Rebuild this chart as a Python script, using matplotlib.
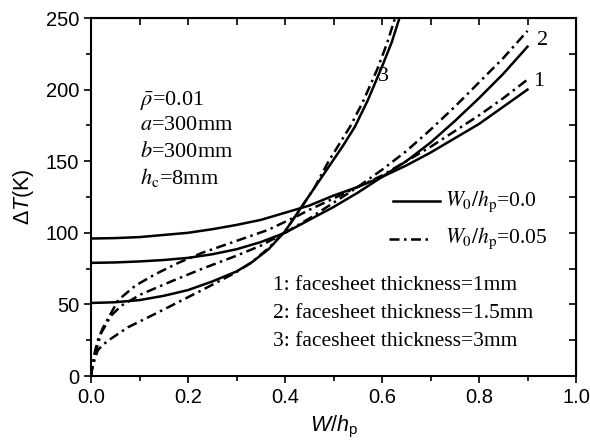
import numpy as np
import matplotlib
matplotlib.use('Agg')
import matplotlib.pyplot as plt

# ---------------- data ----------------
# W0/hp = 0.0 (solid), facesheet 1mm / 1.5mm / 3mm
x_s1 = [0.0, 0.05, 0.1, 0.15, 0.2, 0.25, 0.3, 0.35, 0.4, 0.45, 0.5, 0.55, 0.6, 0.65, 0.7, 0.75, 0.8, 0.85, 0.9]
y_s1 = [96, 96.3, 97, 98.5, 100, 102.5, 105.5, 109, 114, 119, 126, 132, 139, 147, 156, 166, 176, 188, 200]
x_s2 = [0.0, 0.05, 0.1, 0.15, 0.2, 0.25, 0.3, 0.35, 0.4, 0.45, 0.5, 0.55, 0.6, 0.65, 0.7, 0.75, 0.8, 0.85, 0.9]
y_s2 = [79, 79.3, 80, 81, 82.5, 85, 88.5, 93.5, 100, 109, 118, 128, 139, 150, 163, 178, 194, 211, 230]
x_s3 = [0.0, 0.05, 0.1, 0.15, 0.2, 0.25, 0.3, 0.332, 0.366, 0.4, 0.424, 0.452, 0.49, 0.52, 0.544,
        0.57, 0.6, 0.62, 0.636]
y_s3 = [51, 51.5, 53, 56, 60, 66, 73, 79.5, 88.5, 101, 113, 127, 146, 161, 174,
        192, 216, 233, 250]

# W0/hp = 0.05 (dash-dot)
x_d1 = [0.0, 0.003, 0.008, 0.015, 0.025, 0.035, 0.056, 0.091, 0.132, 0.18, 0.229, 0.297, 0.365, 0.427,
        0.45, 0.5, 0.55, 0.6, 0.65, 0.7, 0.75, 0.8, 0.85, 0.9]
y_d1 = [0, 8, 17, 26, 34, 40, 53, 63, 71, 79, 86, 94, 102, 112,
        116, 124, 132, 140, 150, 160, 171, 182, 194, 207]
x_d2 = [0.0, 0.003, 0.008, 0.014, 0.021, 0.041, 0.062, 0.103, 0.165, 0.23, 0.3, 0.35, 0.4,
        0.45, 0.5, 0.55, 0.6, 0.65, 0.7, 0.75, 0.8, 0.85, 0.9]
y_d2 = [0, 7, 15, 22, 30, 42, 49, 57, 66, 75, 84, 91, 100,
        110, 121, 132, 144, 157, 172, 188, 205, 222, 241]
x_d3 = [0.0, 0.003, 0.008, 0.014, 0.025, 0.041, 0.076, 0.118, 0.165, 0.229, 0.297, 0.33, 0.365,
        0.40, 0.43, 0.46, 0.49, 0.534, 0.56, 0.59, 0.61, 0.627]
y_d3 = [0, 6, 12, 18, 22, 26, 34, 41, 49, 60, 72, 79, 89,
        101, 116, 131, 150, 174, 191, 214, 232, 250]

thickness_labels = ['1: facesheet thickness=1mm', '2: facesheet thickness=1.5mm',
                    '3: facesheet thickness=3mm']

plt.rcParams['font.family'] = 'Liberation Sans'
plt.rcParams['mathtext.fontset'] = 'custom'
plt.rcParams['mathtext.rm'] = 'Liberation Sans'
plt.rcParams['mathtext.it'] = 'Liberation Sans:italic'

fig = plt.figure(figsize=(5.9, 4.4), dpi=100)
ax = fig.add_axes([91 / 590, 64 / 440, 485 / 590, 358 / 440])

dd = (0, (4, 1.8, 1, 1.8))
lw = 1.8
for xs, ys in [(x_s1, y_s1), (x_s2, y_s2), (x_s3, y_s3)]:
    ax.plot(xs, ys, color='black', lw=lw)
for xs, ys in [(x_d1, y_d1), (x_d2, y_d2), (x_d3, y_d3)]:
    ax.plot(xs, ys, color='black', lw=lw, linestyle=dd)

ax.set_xlim(0, 1.0)
ax.set_ylim(0, 250)
ax.set_xticks(np.arange(0, 1.01, 0.2))
ax.set_xticks(np.arange(0.1, 1.0, 0.2), minor=True)
ax.set_yticks(np.arange(0, 251, 50))
ax.set_yticks(np.arange(25, 250, 50), minor=True)
ax.xaxis.set_major_formatter(matplotlib.ticker.FormatStrFormatter('%.1f'))
ax.tick_params(which='major', direction='out', length=5, width=1.2, labelsize=14.5)
ax.tick_params(which='minor', direction='out', length=3.5, width=1.2)
for s in ax.spines.values():
    s.set_linewidth(1.5)

# mirrored ticks on top and right, pointing inward
top = ax.secondary_xaxis('top')
top.set_xticks(np.arange(0, 1.01, 0.1))
top.tick_params(direction='in', length=5, width=1.2, labeltop=False)
right = ax.secondary_yaxis('right')
right.set_yticks(np.arange(0, 251, 25))
right.tick_params(direction='in', length=5, width=1.2, labelright=False)

ax.set_ylabel(r'$\mathit{\Delta T}$(K)', fontsize=15.5, labelpad=7)
ax.set_xlabel(r'$W/h_{\rm p}$', fontsize=15.5, labelpad=5)

serif = dict(family='Liberation Serif', fontsize=16, math_fontfamily='stix', color='black')
ax.text(0.10, 189, r'$\bar{\rho}$=0.01', va='baseline', **serif)
ax.text(0.10, 172, r'$a$=300mm', va='baseline', **serif)
ax.text(0.10, 153, r'$b$=300mm', va='baseline', **serif)
ax.text(0.10, 134, r'$h_{\rm c}$=8mm', va='baseline', **serif)

ax.text(0.592, 209, '3', va='center', ha='left', **serif)
ax.text(0.92, 234, '2', va='center', ha='left', **serif)
ax.text(0.911, 206, '1', va='center', ha='left', **serif)

# legend drawn by hand
leg = dict(serif, fontsize=15.5)
ax.plot([0.623, 0.72], [122, 122], color='black', lw=lw)
ax.text(0.73, 122, r'$W_{\rm 0}/h_{\rm p}$=0.0', va='center', ha='left', **leg)
ax.plot([0.614, 0.703], [96, 96], color='black', lw=lw, linestyle=dd)
ax.text(0.73, 96, r'$W_{\rm 0}/h_{\rm p}$=0.05', va='center', ha='left', **leg)

for lab, yy in zip(thickness_labels, [63.4, 43.8, 24]):
    ax.text(0.375, yy, lab, va='center', ha='left', **leg)

fig.savefig('out.png', dpi=100)
